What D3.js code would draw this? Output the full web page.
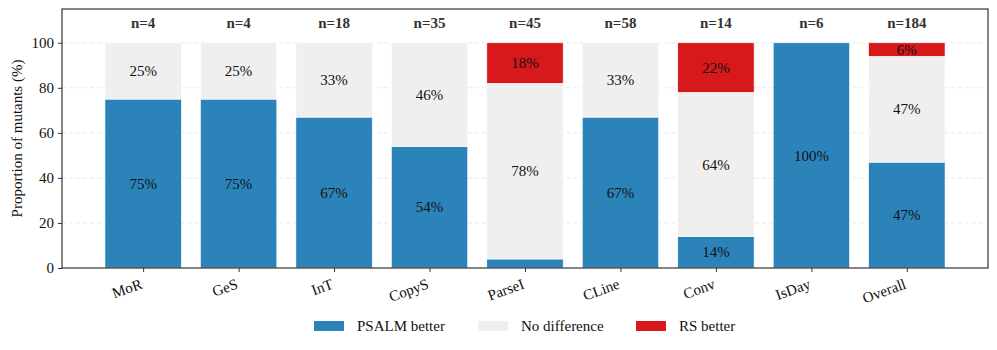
<!DOCTYPE html>
<html>
<head>
<meta charset="utf-8">
<script src="https://cdn.jsdelivr.net/npm/d3@7"></script>
<style>
  body { margin: 0; background: #fff; }
</style>
</head>
<body>
<div id="chart"></div>
<script>
const categories = ['MoR', 'GeS', 'InT', 'CopyS', 'ParseI', 'CLine', 'Conv', 'IsDay', 'Overall']
const counts = [4, 4, 18, 35, 45, 58, 14, 6, 184]
const psalmBetter = [75, 75, 67, 54, 4, 67, 14, 100, 47]
const noDifference = [25, 25, 33, 46, 78, 33, 64, 0, 47]
const rsBetter = [0, 0, 0, 0, 18, 0, 22, 0, 6]
const seriesNames = ['PSALM better', 'No difference', 'RS better']
const seriesColors = ['#2c83ba', '#efefef', '#d7191c']
const yTicks = [0, 20, 40, 60, 80, 100]

const width = 997
const height = 350
const margin = { top: 9, left: 62, right: 9, bottom: 82 }
const serif = "'Liberation Serif', 'Times New Roman', 'DejaVu Serif', serif"

const svg = d3
  .select('#chart')
  .append('svg')
  .attr('width', width)
  .attr('height', height)
  .attr('font-family', serif)

const x = d3
  .scaleLinear()
  .domain([-0.85, categories.length - 1 + 0.85])
  .range([margin.left, width - margin.right])

const y = d3
  .scaleLinear()
  .domain([0, 115])
  .range([height - margin.bottom, margin.top])

const barW = x(0.8) - x(0)

// grid
svg
  .selectAll('.grid')
  .data(yTicks.slice(1))
  .enter()
  .append('line')
  .attr('x1', margin.left)
  .attr('x2', width - margin.right)
  .attr('y1', d => y(d))
  .attr('y2', d => y(d))
  .attr('stroke', '#e3e3e3')
  .attr('stroke-width', 0.8)
  .attr('stroke-dasharray', '4,3')

// stacked bars
const rows = categories.map((c, i) => ({
  cat: c,
  i: i,
  vals: [psalmBetter[i], noDifference[i], rsBetter[i]]
}))

const segments = []
rows.forEach(r => {
  let base = 0
  r.vals.forEach((v, k) => {
    segments.push({ i: r.i, k: k, y0: base, y1: base + v, v: v })
    base += v
  })
})

svg
  .selectAll('.seg')
  .data(segments.filter(d => d.v > 0))
  .enter()
  .append('rect')
  .attr('class', 'seg')
  .attr('x', d => x(d.i) - barW / 2)
  .attr('width', barW)
  .attr('y', d => y(d.y1))
  .attr('height', d => y(d.y0) - y(d.y1))
  .attr('fill', d => seriesColors[d.k])
  .attr('stroke', 'white')
  .attr('stroke-width', 0.6)

svg
  .selectAll('.seg-label')
  .data(segments.filter(d => d.v >= 5))
  .enter()
  .append('text')
  .attr('x', d => x(d.i))
  .attr('y', d => y((d.y0 + d.y1) / 2))
  .attr('dy', '0.35em')
  .attr('text-anchor', 'middle')
  .attr('font-family', serif)
  .attr('font-size', 15)
  .attr('fill', '#111')
  .text(d => d.v + '%')

// n labels
svg
  .selectAll('.n-label')
  .data(counts)
  .enter()
  .append('text')
  .attr('x', (d, i) => x(i))
  .attr('y', y(109))
  .attr('dy', '0.35em')
  .attr('text-anchor', 'middle')
  .attr('font-family', serif)
  .attr('font-size', 15)
  .attr('font-weight', 'bold')
  .attr('fill', '#333')
  .text(d => 'n=' + d)

// axes
const yAxis = svg
  .append('g')
  .attr('transform', `translate(${margin.left},0)`)
  .call(d3.axisLeft(y).tickValues(yTicks).tickSize(4).tickPadding(4))
yAxis.attr('font-family', serif)
yAxis.select('.domain').remove()
yAxis.selectAll('text').attr('font-size', 15).attr('fill', '#111')
yAxis.selectAll('line').attr('stroke', '#333')

const xAxis = svg
  .append('g')
  .attr('transform', `translate(0,${height - margin.bottom})`)
  .call(
    d3
      .axisBottom(x)
      .tickValues(d3.range(categories.length))
      .tickFormat(i => categories[i])
      .tickSize(4)
  )
xAxis.attr('font-family', serif)
xAxis.select('.domain').remove()
xAxis.selectAll('line').attr('stroke', '#333')
xAxis
  .selectAll('text')
  .attr('font-size', 15)
  .attr('fill', '#111')
  .attr('text-anchor', 'end')
  .attr('dy', '0.71em')
  .attr('y', 0)
  .attr('transform', 'translate(-4,10) rotate(-20)')

// frame
svg
  .append('rect')
  .attr('x', margin.left)
  .attr('y', margin.top)
  .attr('width', width - margin.left - margin.right)
  .attr('height', height - margin.top - margin.bottom)
  .attr('fill', 'none')
  .attr('stroke', '#333')
  .attr('stroke-width', 1.2)

svg
  .append('text')
  .attr('transform', `translate(17,${y(57.5)}) rotate(-90)`)
  .attr('text-anchor', 'middle')
  .attr('dy', '0.35em')
  .attr('font-size', 15)
  .attr('fill', '#111')
  .text('Proportion of mutants (%)')

// legend
const legendX = [314, 478, 636]
const legend = svg
  .selectAll('.legend')
  .data(seriesNames)
  .enter()
  .append('g')
  .attr('transform', (d, i) => `translate(${legendX[i]},326)`)

legend
  .append('rect')
  .attr('x', 0)
  .attr('y', -5)
  .attr('width', 30)
  .attr('height', 10)
  .attr('fill', (d, i) => seriesColors[i])

legend
  .append('text')
  .attr('x', 43)
  .attr('dy', '0.35em')
  .attr('font-size', 15)
  .attr('fill', '#111')
  .text(d => d)
</script>
</body>
</html>
